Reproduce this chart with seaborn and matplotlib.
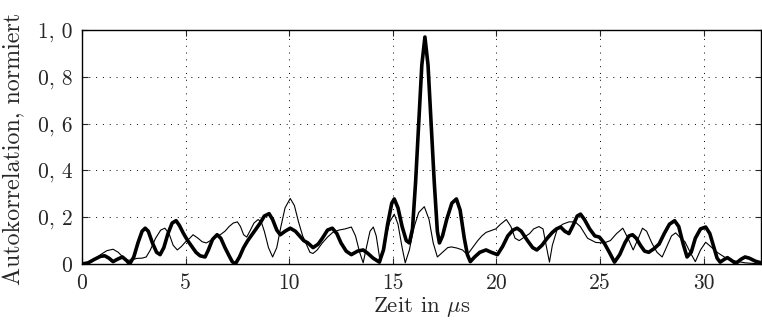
import matplotlib
matplotlib.use("Agg")
import matplotlib.pyplot as plt
import seaborn as sns
import pandas as pd

# Thick curve (x in µs, normalized autocorrelation)
thick_x = [0.0, 0.3, 0.6, 0.9, 1.1, 1.3, 1.5, 1.7, 1.95, 2.15, 2.3, 2.5, 2.7, 2.9, 3.05, 3.2, 3.4, 3.6, 3.77,
           3.95, 4.15, 4.35, 4.54, 4.7, 4.9, 5.1, 5.3, 5.5, 5.7, 5.94, 6.1, 6.3, 6.52, 6.7, 6.9, 7.1, 7.25, 7.4,
           7.6, 7.8, 8.0, 8.2, 8.4, 8.6, 8.8, 9.03, 9.2, 9.4, 9.57, 9.8, 10.05, 10.3, 10.5, 10.7, 10.9, 11.15,
           11.4, 11.6, 11.85, 12.08, 12.3, 12.5, 12.75, 13.0, 13.3, 13.57, 13.8, 14.05, 14.35, 14.55, 14.75,
           14.95, 15.07, 15.25, 15.45, 15.65, 15.8, 15.95, 16.1, 16.25, 16.4, 16.55, 16.7, 16.85, 17.0, 17.15,
           17.25, 17.4, 17.6, 17.85, 18.07, 18.25, 18.45, 18.6, 18.74, 18.95, 19.2, 19.5, 19.75, 20.05, 20.3,
           20.55, 20.8, 21.0, 21.2, 21.5, 21.75, 21.95, 22.2, 22.45, 22.7, 22.9, 23.1, 23.3, 23.5, 23.7, 23.9,
           24.06, 24.25, 24.5, 24.75, 24.97, 25.2, 25.45, 25.7, 25.95, 26.2, 26.4, 26.57, 26.75, 26.95, 27.15,
           27.35, 27.6, 27.85, 28.1, 28.35, 28.6, 28.8, 29.0, 29.2, 29.4, 29.6, 29.85, 30.1, 30.3, 30.5, 30.65,
           30.8, 31.0, 31.15, 31.35, 31.55, 31.8, 32.0, 32.2, 32.5, 32.77]
thick_y = [0.0, 0.005, 0.02, 0.033, 0.035, 0.025, 0.01, 0.02, 0.03, 0.015, 0.0, 0.03, 0.09, 0.14, 0.153, 0.14,
           0.09, 0.05, 0.04, 0.07, 0.13, 0.175, 0.185, 0.165, 0.13, 0.10, 0.075, 0.05, 0.035, 0.03, 0.06, 0.105,
           0.125, 0.11, 0.07, 0.035, 0.01, 0.0, 0.03, 0.07, 0.10, 0.125, 0.15, 0.175, 0.205, 0.215, 0.19, 0.145,
           0.125, 0.14, 0.153, 0.14, 0.12, 0.10, 0.09, 0.07, 0.085, 0.11, 0.145, 0.153, 0.13, 0.09, 0.055, 0.04,
           0.055, 0.06, 0.045, 0.025, 0.008, 0.06, 0.17, 0.26, 0.278, 0.24, 0.16, 0.10, 0.09, 0.15, 0.35, 0.6,
           0.85, 0.97, 0.85, 0.6, 0.35, 0.14, 0.09, 0.12, 0.19, 0.26, 0.278, 0.23, 0.11, 0.04, 0.01, 0.03, 0.05,
           0.06, 0.05, 0.04, 0.075, 0.12, 0.145, 0.153, 0.14, 0.10, 0.07, 0.06, 0.08, 0.11, 0.135, 0.15, 0.158,
           0.14, 0.13, 0.165, 0.205, 0.213, 0.19, 0.15, 0.12, 0.115, 0.09, 0.05, 0.008, 0.04, 0.09, 0.12, 0.125,
           0.11, 0.08, 0.055, 0.05, 0.065, 0.085, 0.13, 0.17, 0.185, 0.16, 0.09, 0.03, 0.05, 0.11, 0.15, 0.158,
           0.13, 0.07, 0.025, 0.008, 0.02, 0.027, 0.015, 0.002, 0.02, 0.03, 0.025, 0.012, 0.005]

# Thin curve
thin_x = [0.0, 0.3, 0.6, 0.9, 1.2, 1.5, 1.75, 2.0, 2.17, 2.4, 2.65, 2.9, 3.1, 3.3, 3.55, 3.8, 4.0, 4.2, 4.4, 4.6,
          4.8, 5.0, 5.2, 5.36, 5.6, 5.8, 6.0, 6.2, 6.45, 6.67, 6.9, 7.1, 7.3, 7.5, 7.65, 7.8, 7.95, 8.1, 8.3,
          8.5, 8.65, 8.8, 9.0, 9.2, 9.4, 9.6, 9.8, 10.05, 10.25, 10.45, 10.65, 10.85, 11.0, 11.15, 11.35, 11.6,
          11.85, 12.1, 12.4, 12.7, 13.0, 13.2, 13.4, 13.57, 13.75, 13.9, 14.06, 14.2, 14.4, 14.6, 14.85, 15.07,
          15.25, 15.45, 15.6, 15.8, 16.0, 16.25, 16.52, 16.75, 16.95, 17.15, 17.4, 17.65, 17.83, 18.1, 18.36,
          18.6, 18.85, 19.1, 19.3, 19.5, 19.75, 19.97, 20.2, 20.48, 20.7, 20.9, 21.1, 21.35, 21.6, 21.8, 22.05,
          22.25, 22.4, 22.56, 22.7, 22.95, 23.2, 23.5, 23.8, 24.05, 24.4, 24.8, 25.2, 25.5, 25.8, 26.1, 26.35,
          26.6, 26.85, 27.05, 27.25, 27.5, 27.75, 28.0, 28.2, 28.45, 28.65, 28.9, 29.1, 29.35, 29.6, 29.85,
          30.1, 30.4, 30.7, 31.0, 31.4, 32.0, 32.77]
thin_y = [0.0, 0.005, 0.02, 0.04, 0.057, 0.063, 0.05, 0.027, 0.015, 0.018, 0.024, 0.025, 0.03, 0.06, 0.11,
          0.145, 0.153, 0.13, 0.08, 0.06, 0.075, 0.095, 0.11, 0.125, 0.11, 0.095, 0.09, 0.10, 0.118, 0.125, 0.14,
          0.16, 0.175, 0.18, 0.16, 0.125, 0.115, 0.14, 0.175, 0.19, 0.18, 0.14, 0.07, 0.03, 0.07, 0.16, 0.24,
          0.28, 0.25, 0.18, 0.12, 0.08, 0.05, 0.045, 0.06, 0.09, 0.115, 0.135, 0.145, 0.15, 0.158, 0.12, 0.05,
          0.005, 0.08, 0.14, 0.158, 0.12, 0.005, 0.09, 0.18, 0.213, 0.17, 0.07, 0.005, 0.06, 0.15, 0.22, 0.245,
          0.19, 0.09, 0.03, 0.05, 0.07, 0.073, 0.068, 0.06, 0.04, 0.07, 0.10, 0.12, 0.135, 0.143, 0.15, 0.17,
          0.19, 0.16, 0.11, 0.10, 0.115, 0.13, 0.15, 0.16, 0.15, 0.08, 0.008, 0.08, 0.153, 0.17, 0.18, 0.18,
          0.16, 0.11, 0.092, 0.09, 0.10, 0.13, 0.153, 0.11, 0.06, 0.11, 0.153, 0.14, 0.09, 0.05, 0.03, 0.07,
          0.12, 0.133, 0.11, 0.095, 0.05, 0.01, 0.06, 0.093, 0.07, 0.047, 0.03, 0.015, 0.005, 0.0]

x_ticks = [0, 5, 10, 15, 20, 25, 30]
y_ticks = [0, 0.2, 0.4, 0.6, 0.8, 1.0]
y_tick_labels = ["0", "0, 2", "0, 4", "0, 6", "0, 8", "1, 0"]
x_label = "Zeit in $\\mu$s"
y_label = "Autokorrelation, normiert"

sns.set_style("ticks")
plt.rcParams["font.family"] = ["cmr10", "DejaVu Serif"]
plt.rcParams["mathtext.fontset"] = "cm"
plt.rcParams["axes.unicode_minus"] = False

fig = plt.figure(figsize=(7.62, 3.25), dpi=100)
ax = fig.add_axes([0.1076, 0.1877, 0.8911, 0.72])

df_thin = pd.DataFrame({"x": thin_x, "y": thin_y})
df_thick = pd.DataFrame({"x": thick_x, "y": thick_y})
sns.lineplot(data=df_thin, x="x", y="y", sort=False, color="black", linewidth=0.8, ax=ax)
sns.lineplot(data=df_thick, x="x", y="y", sort=False, color="black", linewidth=2.6, ax=ax)

ax.set_xlim(0, 32.77)
ax.set_ylim(0, 1.0)
ax.set_xticks(x_ticks)
ax.set_xticklabels([str(t) for t in x_ticks])
ax.set_yticks(y_ticks)
ax.set_yticklabels(y_tick_labels)
ax.grid(True, color="black", linestyle=(0, (1, 6)), linewidth=0.7)
ax.tick_params(direction="in", top=True, right=True, length=4, width=0.8, labelsize=15.5, pad=7)
for s in ax.spines.values():
    s.set_linewidth(1.0)
    s.set_color("black")
ax.set_xlabel(x_label, fontsize=16.5, labelpad=1)
ax.set_ylabel(y_label, fontsize=17.3)
ax.yaxis.set_label_coords(-0.083, 0.49)

fig.savefig("out.png", dpi=100)
